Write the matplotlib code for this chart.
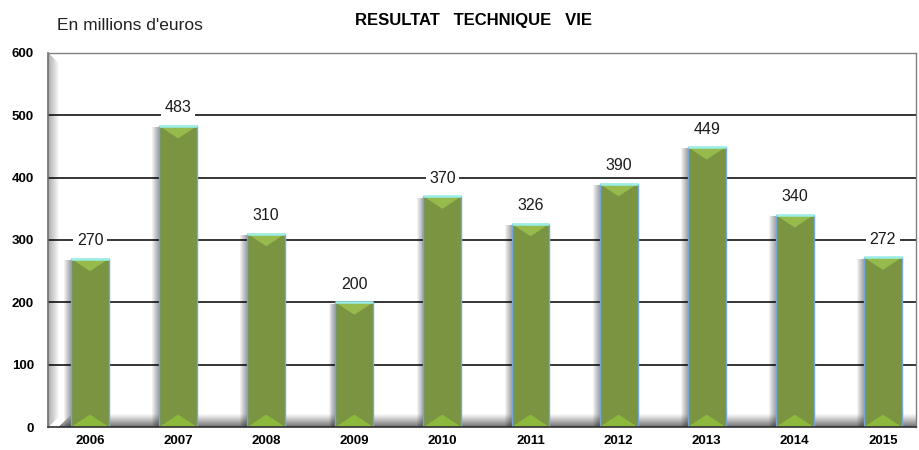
import matplotlib.pyplot as plt
import numpy as np
from matplotlib.patches import Polygon, Rectangle

years = ["2006", "2007", "2008", "2009", "2010", "2011", "2012", "2013", "2014", "2015"]
values = [270, 483, 310, 200, 370, 326, 390, 449, 340, 272]
yticks = [0, 100, 200, 300, 400, 500, 600]

plt.rcParams["font.family"] = ["Liberation Sans", "DejaVu Sans"]

fig = plt.figure(figsize=(9.19, 4.5), dpi=100)
ax = fig.add_axes([48 / 919, 23 / 450, 868 / 919, 374 / 450])

x = np.arange(len(years))
w = 0.43
ax.set_xlim(-0.477, 9.376)
ax.set_ylim(0, 600)

# grey wall (left) and floor (bottom): 1-px strips in axes coords
px = 1 / 868
py = 1 / 374
for i in range(11):
    a = 0.32 * (1 - i / 11)
    ax.add_patch(Rectangle((i * px, i * py), px, 1 - 2 * i * py, transform=ax.transAxes,
                           color="black", alpha=a, lw=0, zorder=0.5))
for i in range(13):
    a = 0.55 * (1 - i / 13) ** 1.1
    ax.add_patch(Rectangle((i * px + 11 * px, i * py), 1, py, transform=ax.transAxes,
                           color="black", alpha=a, lw=0, zorder=0.5))

for y in yticks[1:-1]:
    ax.axhline(y, color="black", lw=1.1, zorder=1)

# soft shadow at the left of the bars
for xi, v in zip(x, values):
    for k in range(7):
        off = (k + 1) * 0.011
        ax.add_patch(Rectangle((xi - w / 2 - off, 0), w, v - 2, color="black",
                               alpha=0.055, lw=0, zorder=1.5))

ax.bar(x, values, width=w, color="#7a9442", edgecolor="#74a6dc", lw=1.0, zorder=2)

# bevel triangles
dx = w / 2
dy = 20
for xi, v in zip(x, values):
    top = Polygon([(xi - dx, v), (xi + dx, v), (xi, v - dy)], closed=True,
                  facecolor="#97ba4c", edgecolor="none", zorder=2.5)
    bot = Polygon([(xi - dx, 0), (xi + dx, 0), (xi, dy)], closed=True,
                  facecolor="#8cb83c", edgecolor="none", zorder=2.5)
    ax.add_patch(top)
    ax.add_patch(bot)
    ax.plot([xi - dx, xi + dx], [v, v], color="#9af0e8", lw=1.8, zorder=3,
            solid_capstyle="butt")
    ax.text(xi, v + 29, str(v), ha="center", va="center", fontsize=11.5,
            color="#1a1a1a", zorder=4,
            bbox=dict(facecolor="white", edgecolor="none", pad=2.5))

ax.set_xticks(x)
ax.set_xticklabels(years, fontsize=9.5, fontweight="bold")
ax.set_yticks(yticks)
ax.set_yticklabels([str(t) for t in yticks], fontsize=9.5, fontweight="bold")
ax.tick_params(length=0)
ax.tick_params(axis="x", pad=6)
ax.tick_params(axis="y", pad=10)

for s in ["top", "right"]:
    ax.spines[s].set_color("#808080")
    ax.spines[s].set_linewidth(1.0)
ax.spines["left"].set_color("#707070")
ax.spines["left"].set_linewidth(1.2)
ax.spines["bottom"].set_color("#303030")
ax.spines["bottom"].set_linewidth(1.2)

fig.text(474 / 919, 1 - 20 / 450, "RESULTAT   TECHNIQUE   VIE", ha="center", va="center",
         fontsize=12, fontweight="bold")
fig.text(57 / 919, 1 - 25 / 450, "En millions d'euros", ha="left", va="center",
         fontsize=12.5, color="#222222")

fig.savefig("out.png", dpi=100)
